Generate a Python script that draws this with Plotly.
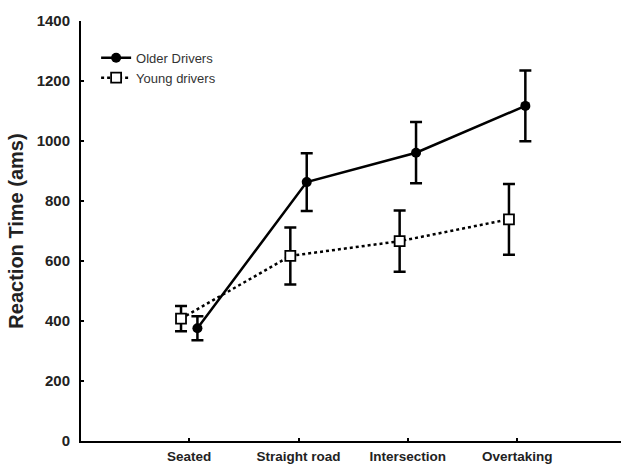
import plotly.graph_objects as go

categories = ["Seated", "Straight road", "Intersection", "Overtaking"]
older_mean = [376, 863, 961, 1117]
older_err = [40, 96, 102, 118]
young_mean = [408, 617, 666, 739]
young_err = [42, 95, 102, 118]
y_ticks = [0, 200, 400, 600, 800, 1000, 1200, 1400]

pos = list(range(1, len(categories) + 1))
off = 0.075
FONT = "Liberation Sans, Arial, sans-serif"

fig = go.Figure()
fig.add_trace(go.Scatter(
    x=[p + off for p in pos], y=older_mean, name="Older Drivers",
    mode="lines+markers",
    line=dict(color="black", width=2.5),
    marker=dict(symbol="circle", size=10, color="black"),
    error_y=dict(type="data", array=older_err, color="black", thickness=2.5, width=6),
))
fig.add_trace(go.Scatter(
    x=[p - off for p in pos], y=young_mean, name="Young drivers",
    mode="lines+markers",
    line=dict(color="black", width=2.5, dash="dot"),
    marker=dict(symbol="square", size=10, color="white", line=dict(color="black", width=1.8)),
    error_y=dict(type="data", array=young_err, color="black", thickness=2.5, width=6),
))

fig.update_layout(
    width=621, height=468,
    margin=dict(l=81, r=0, t=21, b=27),
    paper_bgcolor="white", plot_bgcolor="white",
    font=dict(family=FONT, color="#222"),
    showlegend=True,
    legend=dict(x=0.028, y=0.948, xanchor="left", yanchor="top",
                bgcolor="rgba(0,0,0,0)", font=dict(size=13, color="#333"),
                itemwidth=30, tracegroupgap=0),
    xaxis=dict(range=[0.01, 4.95], tickmode="array", tickvals=pos, ticktext=categories,
               showline=True, linecolor="black", linewidth=2,
               ticks="inside", ticklen=3, tickwidth=1.5, tickcolor="black",
               showgrid=False, zeroline=False, automargin=False,
               tickfont=dict(size=13.5, color="#222", weight="bold"), ticklabelstandoff=2),
    yaxis=dict(range=[0, 1400], tickmode="array", tickvals=y_ticks,
               showline=True, linecolor="black", linewidth=2,
               ticks="inside", ticklen=3, tickwidth=1.5, tickcolor="black",
               showgrid=False, zeroline=False, automargin=False,
               tickfont=dict(size=15, color="#222", weight="bold"), ticklabelstandoff=6,
               title=dict(text="Reaction Time (ams)", font=dict(size=20, color="#222", weight="bold"),
                          standoff=8)),
)

fig.write_html("out.html")
